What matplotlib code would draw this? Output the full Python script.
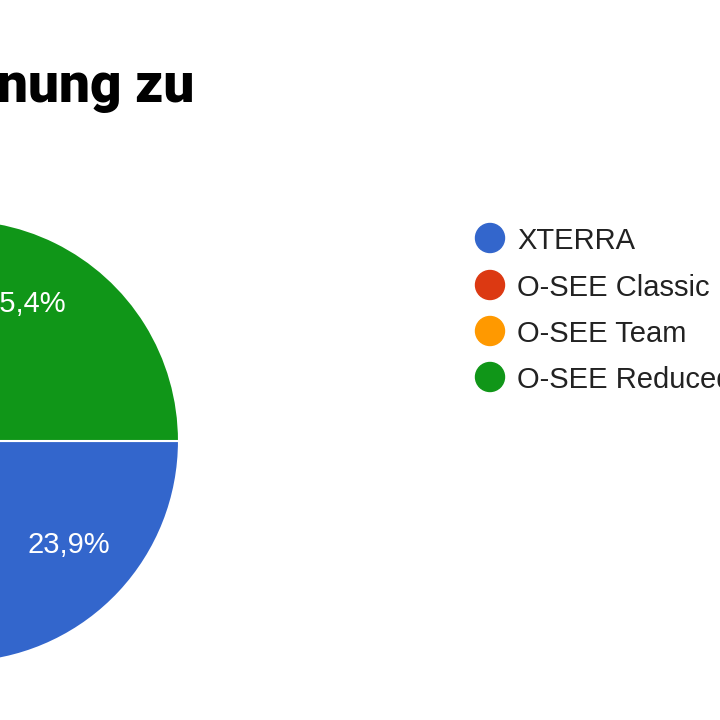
import matplotlib
matplotlib.use("Agg")
import matplotlib.pyplot as plt
from matplotlib.patches import Circle

# Survey answers (percent of responses)
categories = ["XTERRA", "O-SEE Classic", "O-SEE Team", "O-SEE Reduced"]
shares = [23.9, 27.4, 13.3, 35.4]
colors = ["#3366cc", "#dc3912", "#ff9900", "#109618"]
title = "Zuordnung zu"

W = H = 720
fig = plt.figure(figsize=(7.2, 7.2), dpi=100)
ax = fig.add_axes([0, 0, 1, 1])

def py(y):
    # pixel row (top-down) -> data y (bottom-up)
    return H - y

center = (-42.6, py(441))
radius = 221.6

wedges, texts, autotexts = ax.pie(
    shares,
    colors=colors,
    startangle=0,
    counterclock=False,
    center=center,
    radius=radius,
    autopct=lambda p: f"{p:.1f}%".replace(".", ","),
    pctdistance=0.69,
    wedgeprops=dict(edgecolor="white", linewidth=1.5),
    textprops=dict(color="white", fontsize=21, family="Liberation Sans"),
)

ax.set_xlim(0, W)
ax.set_ylim(0, H)
ax.set_aspect("equal")
ax.axis("off")

# Title (left part runs off the canvas)
ax.text(194, py(102), title, ha="right", va="baseline", fontsize=39.5,
        fontweight="heavy", family="Roboto", color="black")

# Legend
legend_x = 490
text_x = 517
row_y = [238, 285, 331, 377]
for cat, col, y in zip(categories, colors, row_y):
    ax.add_patch(Circle((legend_x, py(y)), 14.5, color=col, clip_on=True))
    ax.text(text_x, py(y), cat, ha="left", va="center_baseline", fontsize=21,
            family="Liberation Sans", color="#222222")

fig.savefig("out.png", dpi=100)
